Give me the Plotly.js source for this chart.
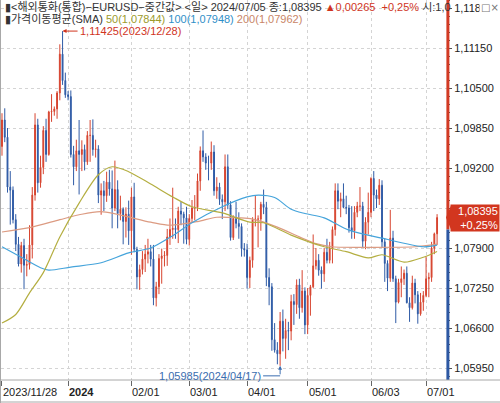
<!DOCTYPE html>
<html><head><meta charset="utf-8">
<script src="https://cdn.plot.ly/plotly-3.0.1.min.js"></script>
<style>html,body{margin:0;padding:0;background:#fff}#chart{width:500px;height:403px}</style>
</head><body><div id="chart"></div>
<script>
// trading days (category axis)
const dates = [
'2023-11-28','2023-11-29','2023-11-30','2023-12-01',
'2023-12-04','2023-12-05','2023-12-06','2023-12-07','2023-12-08',
'2023-12-11','2023-12-12','2023-12-13','2023-12-14','2023-12-15',
'2023-12-18','2023-12-19','2023-12-20','2023-12-21','2023-12-22',
'2023-12-25','2023-12-26','2023-12-27','2023-12-28','2023-12-29',
'2024-01-01','2024-01-02','2024-01-03','2024-01-04','2024-01-05',
'2024-01-08','2024-01-09','2024-01-10','2024-01-11','2024-01-12',
'2024-01-15','2024-01-16','2024-01-17','2024-01-18','2024-01-19',
'2024-01-22','2024-01-23','2024-01-24','2024-01-25','2024-01-26',
'2024-01-29','2024-01-30','2024-01-31','2024-02-01','2024-02-02',
'2024-02-05','2024-02-06','2024-02-07','2024-02-08','2024-02-09',
'2024-02-12','2024-02-13','2024-02-14','2024-02-15','2024-02-16',
'2024-02-19','2024-02-20','2024-02-21','2024-02-22','2024-02-23',
'2024-02-26','2024-02-27','2024-02-28','2024-02-29','2024-03-01',
'2024-03-04','2024-03-05','2024-03-06','2024-03-07','2024-03-08',
'2024-03-11','2024-03-12','2024-03-13','2024-03-14','2024-03-15',
'2024-03-18','2024-03-19','2024-03-20','2024-03-21','2024-03-22',
'2024-03-25','2024-03-26','2024-03-27','2024-03-28','2024-03-29',
'2024-04-01','2024-04-02','2024-04-03','2024-04-04','2024-04-05',
'2024-04-08','2024-04-09','2024-04-10','2024-04-11','2024-04-12',
'2024-04-15','2024-04-16','2024-04-17','2024-04-18','2024-04-19',
'2024-04-22','2024-04-23','2024-04-24','2024-04-25','2024-04-26',
'2024-04-29','2024-04-30','2024-05-01','2024-05-02','2024-05-03',
'2024-05-06','2024-05-07','2024-05-08','2024-05-09','2024-05-10',
'2024-05-13','2024-05-14','2024-05-15','2024-05-16','2024-05-17',
'2024-05-20','2024-05-21','2024-05-22','2024-05-23','2024-05-24',
'2024-05-27','2024-05-28','2024-05-29','2024-05-30','2024-05-31',
'2024-06-03','2024-06-04','2024-06-05','2024-06-06','2024-06-07',
'2024-06-10','2024-06-11','2024-06-12','2024-06-13','2024-06-14',
'2024-06-17','2024-06-18','2024-06-19','2024-06-20','2024-06-21',
'2024-06-24','2024-06-25','2024-06-26','2024-06-27','2024-06-28',
'2024-07-01','2024-07-02','2024-07-03','2024-07-04','2024-07-05'];

const open = [
1.0955,1.0998,1.0970,1.0889,
1.0884,1.0836,1.0796,1.0764,1.0794,
1.0762,1.0763,1.0795,1.0876,1.0990,
1.0896,1.0921,1.0981,1.0942,1.1011,
1.1012,1.1016,1.1042,1.1105,1.1062,
1.1039,1.1036,1.0942,1.0922,1.0948,
1.0942,1.0950,1.0930,1.0973,1.0973,
1.0950,1.0951,1.0876,1.0883,1.0875,
1.0897,1.0886,1.0855,1.0885,1.0846,
1.0853,1.0833,1.0845,1.0818,1.0873,
1.0788,1.0743,1.0755,1.0772,1.0780,
1.0784,1.0772,1.0709,1.0727,1.0773,
1.0777,1.0778,1.0808,1.0820,1.0822,
1.0820,1.0850,1.0845,1.0839,1.0804,
1.0838,1.0855,1.0856,1.0899,1.0948,
1.0938,1.0928,1.0928,1.0946,1.0883,
1.0889,1.0869,1.0865,1.0922,1.0860,
1.0807,1.0838,1.0830,1.0825,1.0789,
1.0787,1.0742,1.0770,1.0836,1.0837,
1.0837,1.0861,1.0856,1.0742,1.0727,
1.0641,1.0624,1.0618,1.0671,1.0643,
1.0656,1.0655,1.0703,1.0698,1.0730,
1.0693,1.0720,1.0665,1.0713,1.0727,
1.0761,1.0770,1.0754,1.0748,1.0783,
1.0770,1.0790,1.0820,1.0883,1.0866,
1.0870,1.0856,1.0855,1.0823,1.0818,
1.0848,1.0858,1.0858,1.0801,1.0832,
1.0848,1.0903,1.0876,1.0870,1.0892,
1.0800,1.0765,1.0741,1.0806,1.0740,
1.0702,1.0734,1.0740,1.0749,1.0701,
1.0693,1.0733,1.0714,1.0683,1.0702,
1.0713,1.0740,1.0742,1.0790,1.0813];

const high = [
1.1009,1.1017,1.0985,1.0915,
1.0890,1.0845,1.0808,1.0800,1.0805,
1.0780,1.0827,1.0889,1.1009,1.1000,
1.0940,1.0988,1.1000,1.1013,1.1040,
1.1020,1.1045,1.1121,1.11425,1.1075,
1.1045,1.1046,1.0956,1.0966,1.0998,
1.0965,1.0958,1.0980,1.0998,1.0999,
1.0966,1.0957,1.0895,1.0899,1.0914,
1.0917,1.0916,1.0932,1.0900,1.0875,
1.0856,1.0856,1.0867,1.0888,1.0896,
1.0792,1.0763,1.0785,1.0795,1.0805,
1.0795,1.0795,1.0735,1.0780,1.0789,
1.0785,1.0821,1.0838,1.0888,1.0838,
1.0857,1.0865,1.0849,1.0857,1.0845,
1.0868,1.0876,1.0911,1.0955,1.0981,
1.0944,1.0940,1.0963,1.0957,1.0905,
1.0896,1.0877,1.0942,1.0942,1.0866,
1.0843,1.0865,1.0848,1.0830,1.0798,
1.0797,1.0776,1.0840,1.0876,1.0843,
1.0865,1.0885,1.0865,1.0757,1.0733,
1.0668,1.0637,1.0686,1.0690,1.0675,
1.0670,1.0714,1.0715,1.0739,1.0740,
1.0754,1.0726,1.0725,1.0730,1.0812,
1.0790,1.0780,1.0760,1.0790,1.0805,
1.0800,1.0825,1.0895,1.0895,1.0880,
1.0895,1.0875,1.0860,1.0858,1.0858,
1.0865,1.0889,1.0865,1.0840,1.0880,
1.0905,1.0915,1.0885,1.0902,1.0900,
1.0805,1.0770,1.0852,1.0818,1.0745,
1.0740,1.0760,1.0755,1.0760,1.0710,
1.0745,1.0740,1.0720,1.0717,1.0720,
1.0776,1.0750,1.0800,1.0815,1.0845];

const low = [
1.0940,1.0962,1.0880,1.0828,
1.0830,1.0785,1.0760,1.0750,1.0723,
1.0744,1.0755,1.0773,1.0867,1.0880,
1.0888,1.0910,1.0930,1.0940,1.0995,
1.1005,1.1000,1.1030,1.1055,1.1034,
1.1030,1.0937,1.0892,1.0915,1.0877,
1.0915,1.0916,1.0925,1.0930,1.0940,
1.0937,1.0863,1.0844,1.0850,1.0865,
1.0875,1.0822,1.0850,1.0822,1.0835,
1.0796,1.0807,1.0795,1.0779,1.0783,
1.0723,1.0722,1.0747,1.0751,1.0765,
1.0760,1.0697,1.0695,1.0715,1.0732,
1.0760,1.0761,1.0795,1.0805,1.0805,
1.0798,1.0827,1.0797,1.0796,1.0794,
1.0831,1.0835,1.0850,1.0883,1.0930,
1.0917,1.0900,1.0917,1.0875,1.0870,
1.0860,1.0837,1.0850,1.0853,1.0802,
1.0803,1.0822,1.0805,1.0776,1.0776,
1.0724,1.0725,1.0758,1.0825,1.0791,
1.0818,1.0845,1.0728,1.0697,1.0623,
1.0620,1.0601,1.05985,1.0622,1.0610,
1.0624,1.0640,1.0665,1.0683,1.0675,
1.0685,1.0650,1.0650,1.0680,1.0725,
1.0755,1.0745,1.0724,1.0735,1.0765,
1.0765,1.0765,1.0810,1.0853,1.0840,
1.0855,1.0845,1.0815,1.0805,1.0805,
1.0840,1.0850,1.0790,1.0788,1.0812,
1.0840,1.0850,1.0855,1.0860,1.0790,
1.0735,1.0720,1.0735,1.0735,1.0668,
1.0700,1.0710,1.0730,1.0700,1.0670,
1.0690,1.0700,1.0667,1.0680,1.0688,
1.0710,1.0710,1.0735,1.0780,1.0795];

const close = [
1.0998,1.0970,1.0889,1.0884,
1.0836,1.0796,1.0764,1.0794,1.0762,
1.0763,1.0795,1.0876,1.0990,1.0896,
1.0921,1.0981,1.0942,1.1011,1.1012,
1.1016,1.1042,1.1105,1.1062,1.1039,
1.1036,1.0942,1.0922,1.0948,1.0942,
1.0950,1.0930,1.0973,1.0973,1.0950,
1.0951,1.0876,1.0883,1.0875,1.0897,
1.0886,1.0855,1.0885,1.0846,1.0853,
1.0833,1.0845,1.0818,1.0873,1.0788,
1.0743,1.0755,1.0772,1.0780,1.0784,
1.0772,1.0709,1.0727,1.0773,1.0777,
1.0778,1.0808,1.0820,1.0822,1.0820,
1.0850,1.0845,1.0839,1.0804,1.0838,
1.0855,1.0856,1.0899,1.0948,1.0938,
1.0928,1.0928,1.0946,1.0883,1.0889,
1.0869,1.0865,1.0922,1.0860,1.0807,
1.0838,1.0830,1.0825,1.0789,1.0787,
1.0742,1.0770,1.0836,1.0837,1.0837,
1.0861,1.0856,1.0742,1.0727,1.0641,
1.0624,1.0618,1.0671,1.0643,1.0656,
1.0655,1.0703,1.0698,1.0730,1.0693,
1.0720,1.0665,1.0713,1.0727,1.0761,
1.0770,1.0754,1.0748,1.0783,1.0770,
1.0790,1.0820,1.0883,1.0866,1.0870,
1.0856,1.0855,1.0823,1.0818,1.0848,
1.0858,1.0858,1.0801,1.0832,1.0848,
1.0903,1.0876,1.0870,1.0892,1.0800,
1.0765,1.0741,1.0806,1.0740,1.0702,
1.0734,1.0740,1.0749,1.0701,1.0693,
1.0733,1.0714,1.0683,1.0702,1.0713,
1.0740,1.0742,1.0790,1.0813,1.08395];

// moving averages (read at sample dates)
const sma50Dates = ['2023-11-28','2023-12-05','2023-12-12','2023-12-19','2023-12-27','2024-01-05','2024-01-16','2024-01-23','2024-01-31','2024-02-12','2024-02-22','2024-03-04','2024-03-19','2024-04-02','2024-04-09','2024-04-23','2024-05-09','2024-05-21','2024-05-31','2024-06-07','2024-06-19','2024-06-28','2024-07-05'];
const sma50 = [1.0668,1.0682,1.0717,1.0750,1.0808,1.0863,1.0909,1.0922,1.0914,1.0894,1.0873,1.0857,1.0847,1.0832,1.0831,1.0811,1.0792,1.0784,1.0774,1.0779,1.0767,1.0775,1.07844];

const sma100Dates = ['2023-11-28','2023-12-07','2023-12-18','2023-12-21','2024-01-02','2024-01-17','2024-01-31','2024-02-12','2024-02-22','2024-03-04','2024-03-19','2024-04-01','2024-04-05','2024-04-15','2024-04-23','2024-04-30','2024-05-09','2024-05-22','2024-06-07','2024-06-28','2024-07-05'];
const sma100 = [1.0792,1.0775,1.0758,1.0754,1.0759,1.0766,1.0782,1.0790,1.0810,1.0831,1.0857,1.0873,1.0876,1.0872,1.0853,1.0846,1.0839,1.0819,1.0806,1.0792,1.07948];

const sma200Dates = ['2023-11-28','2023-12-12','2023-12-27','2024-01-05','2024-01-17','2024-02-12','2024-02-21','2024-03-06','2024-03-15','2024-03-27','2024-04-03','2024-04-16','2024-04-26','2024-05-06','2024-05-14','2024-06-04','2024-06-25','2024-07-05'];
const sma200 = [1.0816,1.0823,1.0836,1.0844,1.0849,1.0832,1.0827,1.0833,1.0840,1.0839,1.0837,1.0824,1.0808,1.0797,1.0792,1.0791,1.0792,1.07962];

const xTickDates = ['2023-11-28','2024-01-01','2024-02-01','2024-03-01','2024-04-01','2024-05-01','2024-06-03','2024-07-01'];
const xTickTexts = ['2023/11/28','<b>2024</b>','02/01','03/01','04/01','05/01','06/03','07/01'];
const yTicks = [1.0595,1.066,1.0725,1.079,1.0855,1.092,1.0985,1.105,1.1115,1.118];
const yTickTexts = ['1,05950','1,06600','1,07250','1,07900','','1,09200','1,09850','1,10500','1,11150','1,118'];

// ---------- drawing ----------
const RED = '#d7442f', BLUE = '#2f5ba6';
const C50 = '#b4ae40', C100 = '#45a4db', C200 = '#dc9b82';
const FONT = 'Liberation Sans, Noto Sans CJK KR, sans-serif';
const yRange = [1.05755, 1.1193];
const xRange = [-0.36, 161.6];
const plotW = 446, plotH = 380;
const pxY = (yRange[1] - yRange[0]) / plotH;
const pxX = (xRange[1] - xRange[0]) / plotW;
const fmt = v => v.toFixed(5).replace('.', ',');
const n = close.length;
const last = close[n - 1], prev = close[n - 2];
const chg = last - prev, pct = chg / prev * 100;
const pctTxt = (chg >= 0 ? '+' : '') + pct.toFixed(2).replace('.', ',') + '%';

const iMax = high.indexOf(Math.max(...high));
const iMin = low.indexOf(Math.min(...low));

const traces = [
  {type:'candlestick', x:dates, open:open, high:high, low:low, close:close, whiskerwidth:0,
   increasing:{line:{color:RED, width:1}, fillcolor:RED},
   decreasing:{line:{color:BLUE, width:1}, fillcolor:BLUE}, hoverinfo:'skip'},
  {type:'scatter', mode:'lines', x:sma200Dates, y:sma200, line:{color:C200, width:1.2, shape:'spline', smoothing:0.8}, hoverinfo:'skip'},
  {type:'scatter', mode:'lines', x:sma100Dates, y:sma100, line:{color:C100, width:1.2, shape:'spline', smoothing:0.8}, hoverinfo:'skip'},
  {type:'scatter', mode:'lines', x:sma50Dates, y:sma50, line:{color:C50, width:1.2, shape:'spline', smoothing:0.8}, hoverinfo:'skip'}
];

const dark = '#333';
const header1 = '▮&lt;해외통화(통합)−EURUSD−중간값&gt; &lt;일&gt; ' + dates[n-1].replace(/-/g,'/') +
  ' 종:' + fmt(last) + ' <span style="color:#d0341e">' + (chg >= 0 ? '▲' : '▼') + fmt(Math.abs(chg)) +
  '  ' + pctTxt + '</span> 시:1,0';
const header2 = '▮가격이동평균(SMA) <span style="color:#9c9a2c">50(' + fmt(sma50[sma50.length-1]) + ')</span> ' +
  '<span style="color:#2f8fc8">100(' + fmt(sma100[sma100.length-1]) + ')</span> ' +
  '<span style="color:#c98567">200(' + fmt(sma200[sma200.length-1]) + ')</span>';

const annotations = [
  {xref:'paper', yref:'paper', x:2/plotW, y:1 - 7/plotH, xanchor:'left', yanchor:'middle', showarrow:false,
   text:header1, font:{family:FONT, size:11, color:dark}},
  {xref:'paper', yref:'paper', x:2/plotW, y:1 - 19/plotH, xanchor:'left', yanchor:'middle', showarrow:false,
   text:header2, font:{family:FONT, size:11, color:dark}},
  {xref:'x', yref:'y', x:dates[iMax], y:high[iMax], ax:15, ay:0, xanchor:'left', yanchor:'middle',
   showarrow:true, arrowhead:2, arrowsize:0.8, arrowwidth:1, arrowcolor:'#d0341e',
   text:fmt(high[iMax]) + '(' + dates[iMax].replace(/-/g,'/') + ')', font:{family:FONT, size:11, color:'#d0341e'}},
  {xref:'x', yref:'y', x:dates[iMin], y:low[iMin], xshift:-17, yshift:-10, xanchor:'right', yanchor:'middle',
   showarrow:false, text:fmt(low[iMin]) + '(' + dates[iMin].replace(/-/g,'/') + ')', font:{family:FONT, size:11, color:'#3a6db0'}},
  {xref:'x', yref:'y', x:dates[iMin], y:low[iMin], ax:0, ay:10, showarrow:true, arrowhead:2, arrowsize:0.8,
   arrowwidth:1, arrowcolor:'#3a6db0', text:''},
  {xref:'paper', yref:'y', x:(450-1)/plotW, y:last, xanchor:'left', yanchor:'middle', showarrow:false,
   text:fmt(last) + '<br>' + pctTxt, align:'right', bgcolor:'#d2361f', borderpad:1, width:46, height:24,
   font:{family:FONT, size:11, color:'#ffffff'}},
  {xref:'paper', yref:'paper', x:1.12, y:1, xanchor:'right', yanchor:'top', showarrow:false, text:'□×',
   bgcolor:'#ffffff', font:{family:'DejaVu Sans', size:10, color:'#777'}}
];
xTickDates.forEach((d, k) => annotations.push({
  xref:'x', yref:'paper', x:d, y:-12/plotH, xanchor:'left', yanchor:'middle', xshift:-1, showarrow:false,
  text:xTickTexts[k], font:{family:FONT, size:11, color:'#222'}
}));

const xr = v => (v - 1) / plotW;
const shapes = [
  {type:'line', xref:'paper', yref:'y', x0:1.002, x1:1.002, y0:yRange[1], y1:last - 12*pxY, line:{color:'#d23a24', width:3}},
  {type:'line', xref:'paper', yref:'y', x0:1.002, x1:1.002, y0:last - 12*pxY, y1:yRange[0], line:{color:'#2d58a3', width:3}},
  {type:'path', xref:'paper', yref:'y', fillcolor:'#d2361f', line:{width:0},
   path:'M ' + xr(446) + ' ' + last + ' L ' + xr(451) + ' ' + (last + 12*pxY) + ' L ' + xr(451) + ' ' + (last - 12*pxY) + ' Z'},
  {type:'line', xref:'x', yref:'y', x0:iMin - 17*pxX, x1:iMin, y0:low[iMin] - 10*pxY, y1:low[iMin] - 10*pxY,
   line:{color:'#3a6db0', width:1}},
  {type:'line', xref:'paper', yref:'paper', x0:xr(0.5), x1:xr(0.5), y0:-23/plotH, y1:1, line:{color:'#a8a8a8', width:1}},
  {type:'line', xref:'paper', yref:'paper', x0:xr(0), x1:xr(500), y0:-22/plotH, y1:-22/plotH, line:{color:'#a8a8a8', width:1}},
  {type:'line', xref:'paper', yref:'paper', x0:xr(0), x1:xr(500), y0:0, y1:0, line:{color:'#a8a8a8', width:1}}
];

const layout = {
  width:500, height:403, margin:{l:1, r:53, t:0, b:23, pad:0},
  paper_bgcolor:'#ffffff', plot_bgcolor:'#ffffff', showlegend:false, hovermode:false,
  separators:',.', font:{family:FONT, size:11, color:'#222'}, boxgap:0.55,
  xaxis:{type:'category', categoryorder:'array', categoryarray:dates, range:xRange, tickvals:xTickDates, showticklabels:false,
    showgrid:true, gridcolor:'#d4d4d4', griddash:'3px,3px', gridwidth:1,
    ticks:'outside', ticklen:5, tickcolor:'#666', showline:false, zeroline:false,
    rangeslider:{visible:false}, fixedrange:true},
  yaxis:{side:'right', range:yRange, tickvals:yTicks, ticktext:yTickTexts,
    showgrid:true, gridcolor:'#d4d4d4', griddash:'3px,3px', gridwidth:1,
    ticks:'outside', ticklen:4, tickcolor:'#555', showline:false, zeroline:false,
    tickfont:{family:FONT, size:11, color:'#222'},
    minor:{dtick:0.0013, tick0:1.0595, ticks:'outside', ticklen:2, tickcolor:'#555', showgrid:false},
    fixedrange:true},
  annotations:annotations, shapes:shapes
};

Plotly.newPlot('chart', traces, layout, {displayModeBar:false, staticPlot:true});
</script>
</body></html>
